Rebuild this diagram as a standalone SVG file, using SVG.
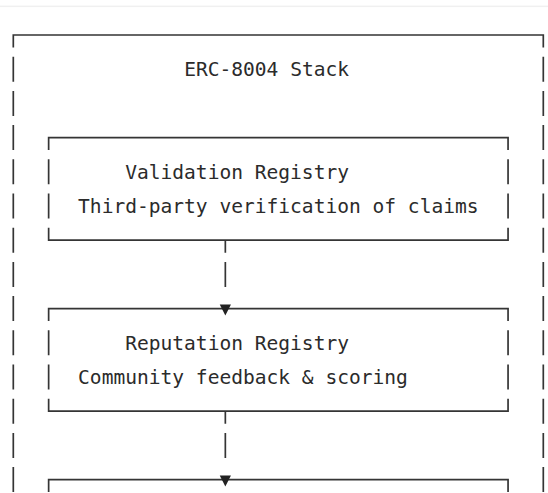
<svg xmlns="http://www.w3.org/2000/svg" xmlns:xlink="http://www.w3.org/1999/xlink" width="548" height="493" viewBox="0 0 548 493">
  <style>
    .frame { fill: none; stroke: #353535; stroke-width: 1.7; }
    .bars { fill: none; stroke: #353535; stroke-width: 1.7; stroke-dasharray: 25 9.2; }
    .label { font-family: "DejaVu Sans Mono", "Liberation Mono", monospace; font-size: 19.57px; fill: #2b2b2b; }
    .head { fill: #222; }
  </style>
  <defs>
    <!-- downward pointing arrowhead, tip at (0,0) -->
    <path id="arrowhead" class="head" d="M-5.6,-11.2 H5.6 L0,0 Z"/>
  </defs>

  <rect width="548" height="493" fill="#ffffff"/>
  <rect x="0" y="5.6" width="548" height="1.5" fill="#f0f0f0"/>

  <!-- outer container -->
  <g id="stack">
    <path class="frame" d="M13.3,47.5 V35 H543.3 V47.5"/>
    <line class="bars" x1="13.3" y1="56.7" x2="13.3" y2="500"/>
    <line class="bars" x1="543.3" y1="56.7" x2="543.3" y2="500"/>
    <text class="label" x="184.15" y="76.4">ERC-8004 Stack</text>
  </g>

  <g id="validation-registry">
    <path class="frame" d="M48.64,150.1 V137.6 H508.06 V150.1"/>
    <line class="bars" x1="48.64" y1="159.3" x2="48.64" y2="218.5"/>
    <line class="bars" x1="508.06" y1="159.3" x2="508.06" y2="218.5"/>
    <path class="frame" d="M48.64,227.7 V240.2 H508.06 V227.7"/>
    <text class="label" x="125.2" y="179">Validation Registry</text>
    <text class="label" x="78.1" y="213.2">Third-party verification of claims</text>
  </g>

  <g id="reputation-registry">
    <path class="frame" d="M48.64,321.1 V308.6 H508.06 V321.1"/>
    <line class="bars" x1="48.64" y1="330.3" x2="48.64" y2="389.5"/>
    <line class="bars" x1="508.06" y1="330.3" x2="508.06" y2="389.5"/>
    <path class="frame" d="M48.64,398.7 V411.2 H508.06 V398.7"/>
    <text class="label" x="125.2" y="350">Reputation Registry</text>
    <text class="label" x="78.1" y="384.2">Community feedback &amp; scoring</text>
  </g>

  <g id="lower-registry">
    <path class="frame" d="M48.64,492.1 V479.6 H508.06 V492.1"/>
  </g>

  <!-- connectors between the stacked registries -->
  <g id="connectors">
    <path class="frame" d="M225.34,240.2 V252.7 M225.34,261.9 V286.9"/>
    <use xlink:href="#arrowhead" x="225.34" y="315.6"/>
    <path class="frame" d="M225.34,411.2 V423.7 M225.34,432.9 V457.9"/>
    <use xlink:href="#arrowhead" x="225.34" y="486.6"/>
  </g>
</svg>
